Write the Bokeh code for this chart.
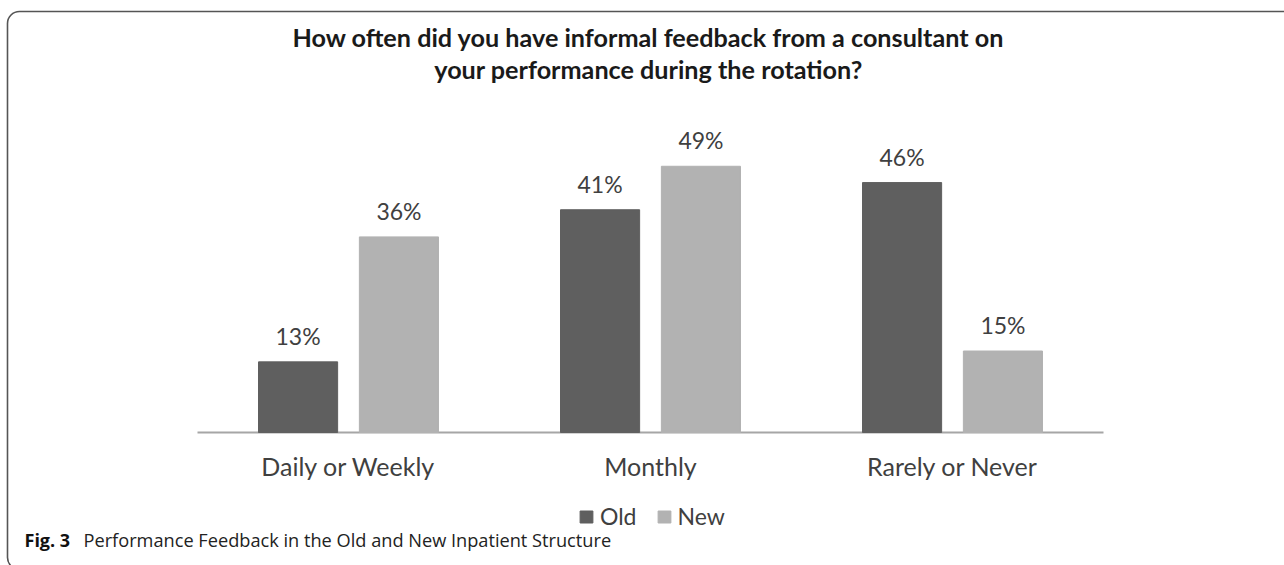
from bokeh.plotting import figure
from bokeh.models import (ColumnDataSource, Range1d, Label, Legend, LegendItem,
                          BoxAnnotation)
from bokeh.embed import file_html
from bokeh.resources import INLINE
from bokeh.core.properties import value

# ---- data ----
categories = ["Daily or Weekly", "Monthly", "Rarely or Never"]
series_names = ["Old", "New"]
old_pct = [13, 41, 46]
new_pct = [36, 49, 15]
title_lines = ["How often did you have informal feedback from a consultant on",
               "your performance during the rotation?"]
caption_bold = "Fig. 3"
caption_text = "Performance Feedback in the Old and New Inpatient Structure"

# ---- layout constants (pixels of the 1284x565 canvas) ----
W, H = 1284, 565
AXIS_Y = 432          # canvas y of the value 0
PX_PER_PCT = 5.4333   # vertical scale
FIRST_CENTER = 348    # canvas x of first category centre
PX_PER_CAT = 302      # width of one category slot

FONT = "Lato"
OLD_COLOR = "#5f5f5f"
NEW_COLOR = "#b2b2b2"
TEXT_COLOR = "#404040"

off = 0.167   # dodge of each series inside a category
bw = 0.262    # bar width (category units)

cat_x = [i + 0.5 for i in range(len(categories))]
source = ColumnDataSource(data=dict(
    x_old=[x - off for x in cat_x], x_new=[x + off for x in cat_x],
    old=old_pct, new=new_pct,
    old_label=[f"{v}%" for v in old_pct], new_label=[f"{v}%" for v in new_pct]))
cat_source = ColumnDataSource(data=dict(x=cat_x, y=[0] * len(categories), text=categories))

x_start = 0.5 - FIRST_CENTER / PX_PER_CAT
x_end = 0.5 + (W - FIRST_CENTER) / PX_PER_CAT
y_start = -(H - AXIS_Y) / PX_PER_PCT
y_end = AXIS_Y / PX_PER_PCT

p = figure(width=W, height=H,
           x_range=Range1d(x_start, x_end), y_range=Range1d(y_start, y_end),
           output_backend="svg", toolbar_location=None, title=None,
           x_axis_location=None, y_axis_location=None,
           min_border=0, min_border_left=0, min_border_right=0,
           min_border_top=0, min_border_bottom=0)
p.xgrid.visible = False
p.ygrid.visible = False
p.outline_line_color = None
p.background_fill_color = "white"
p.border_fill_color = "white"

# outer rounded frame
p.add_layout(BoxAnnotation(left=7, right=W + 30, top=H - 11, bottom=-4,
                           left_units="screen", right_units="screen",
                           top_units="screen", bottom_units="screen",
                           fill_alpha=0, line_color="#555555", line_alpha=1.0,
                           line_width=1.6, border_radius=12))

# category axis line
p.segment(x0=[0], x1=[len(categories)], y0=[0], y1=[0],
          line_color="#a6a6a6", line_width=2)

# bars
r_old = p.vbar(x="x_old", top="old", width=bw, source=source,
               fill_color=OLD_COLOR, line_color=OLD_COLOR)
r_new = p.vbar(x="x_new", top="new", width=bw, source=source,
               fill_color=NEW_COLOR, line_color=NEW_COLOR)

# data labels
for xcol, col, lab in [("x_old", "old", "old_label"), ("x_new", "new", "new_label")]:
    p.text(x=xcol, y=col, text=lab, source=source,
           text_align="center", text_baseline="middle", y_offset=-26,
           text_font=value(FONT), text_font_size="23px", text_color=TEXT_COLOR)

# category labels
p.text(x="x", y="y", text="text", source=cat_source,
       text_align="center", text_baseline="middle", y_offset=33,
       text_font=value(FONT), text_font_size="25px", text_color=TEXT_COLOR)

# legend
legend = Legend(items=[LegendItem(label=series_names[0], renderers=[r_old]),
                       LegendItem(label=series_names[1], renderers=[r_new])],
                orientation="horizontal", location=(578, 35),
                label_text_font=FONT, label_text_font_size="23px",
                label_text_color=TEXT_COLOR,
                glyph_width=16, glyph_height=15, spacing=19, label_standoff=6,
                padding=0, margin=0, border_line_color=None,
                background_fill_alpha=0)
p.add_layout(legend, "center")

# title
for line, yc in zip(title_lines, [36.5, 68.0]):
    p.add_layout(Label(x=648, y=H - yc, x_units="screen", y_units="screen",
                       text=line, text_align="center", text_baseline="middle",
                       text_font=FONT, text_font_style="bold", text_font_size="25.2px",
                       text_color="#1a1a1a"))

# caption
p.add_layout(Label(x=24, y=H - 539, x_units="screen", y_units="screen",
                   text=caption_bold, text_font="Open Sans", text_font_style="bold",
                   text_font_size="18px", text_color="#111111",
                   text_baseline="middle"))
p.add_layout(Label(x=83, y=H - 539, x_units="screen", y_units="screen",
                   text=caption_text, text_font="Open Sans",
                   text_font_size="18.2px", text_color="#222222",
                   text_baseline="middle"))

open("out.html", "w").write(file_html(p, INLINE))
